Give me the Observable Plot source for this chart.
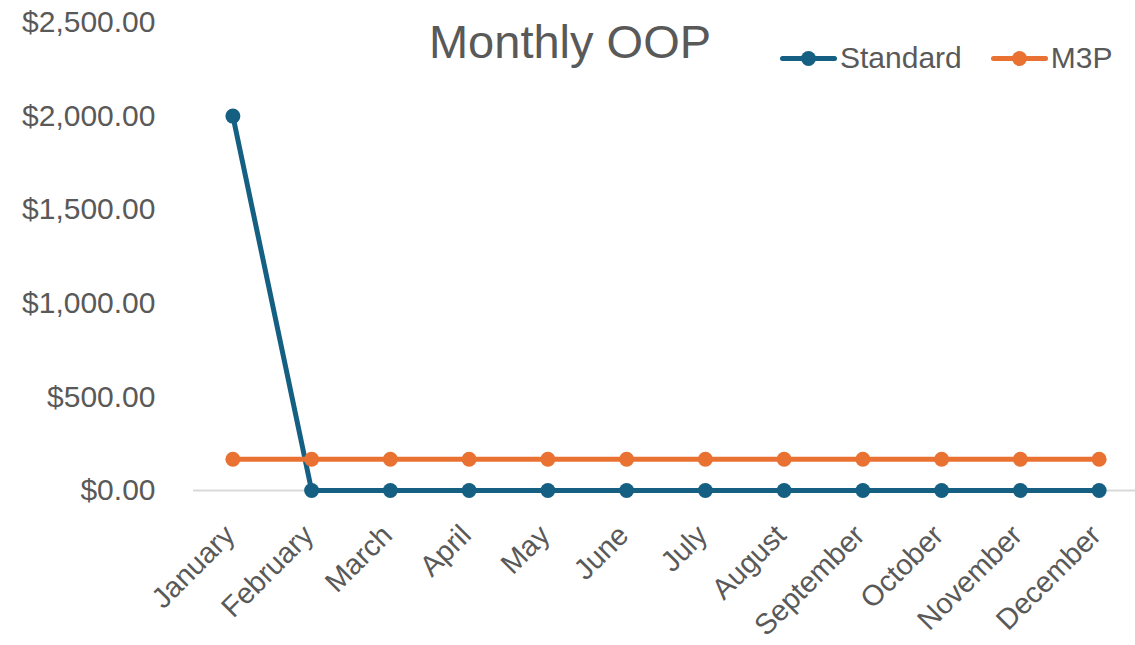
<!DOCTYPE html>
<html>
<head>
<meta charset="utf-8">
<script src="https://cdn.jsdelivr.net/npm/d3@7"></script>
<script src="https://cdn.jsdelivr.net/npm/@observablehq/plot@0.6"></script>
<style>
  html, body { margin: 0; padding: 0; background: #fff; }
  #wrap { position: relative; width: 1135px; height: 645px; font-family: "Liberation Sans", Arial, sans-serif; color: #595959; }
  #title { position: absolute; left: 0; width: 1140px; top: 15px; text-align: center; font-size: 47px; line-height: 54px; }
  #legend { position: absolute; top: 40px; left: 780px; display: flex; align-items: center; font-size: 30px; line-height: 36px; }
  .item { display: flex; align-items: center; margin-right: 29px; }
  .sw { width: 57px; height: 15px; position: relative; margin-right: 3px; }
  .sw .ln { position: absolute; left: 0; right: 0; top: 5px; height: 5px; border-radius: 3px; }
  .sw .dt { position: absolute; left: 21px; top: 0; width: 15px; height: 15px; border-radius: 50%; }
</style>
</head>
<body>
<div id="wrap">
  <div id="chart"></div>
  <div id="title">Monthly OOP</div>
  <div id="legend"></div>
</div>
<script>
const months = ["January","February","March","April","May","June","July","August","September","October","November","December"];
const standard = [2000, 0, 0, 0, 0, 0, 0, 0, 0, 0, 0, 0];
const m3p = [166.67, 166.67, 166.67, 166.67, 166.67, 166.67, 166.67, 166.67, 166.67, 166.67, 166.67, 166.67];
const seriesNames = ["Standard", "M3P"];
const seriesColors = ["#156082", "#E97132"];
const yTicks = [0, 500, 1000, 1500, 2000, 2500];

const data = [];
months.forEach((m, i) => {
  data.push({month: m, value: standard[i], series: "Standard"});
  data.push({month: m, value: m3p[i], series: "M3P"});
});

const fmt = d3.format("$,.2f");

const chart = Plot.plot({
  width: 1135,
  height: 645,
  marginTop: 22,
  marginBottom: 155,
  marginLeft: 193,
  marginRight: 0,
  style: {fontFamily: "'Liberation Sans', Arial, sans-serif", color: "#595959", background: "transparent"},
  x: {type: "point", domain: months, range: [193, 1138], padding: 0.5, round: false, label: null},
  y: {domain: [0, 2500], label: null},
  color: {domain: seriesNames, range: seriesColors},
  marks: [
    Plot.axisY({ticks: yTicks, tickFormat: fmt, tickSize: 0, tickPadding: 38, fontSize: 30, label: null}),
    Plot.axisX({tickSize: 0, tickRotate: -45, tickPadding: 40, dx: -3, fontSize: 29, label: null}),
    Plot.ruleY([0], {stroke: "#d9d9d9", strokeWidth: 2}),
    Plot.line(data, {x: "month", y: "value", z: "series", stroke: "series", strokeWidth: 5, strokeLinejoin: "round", strokeLinecap: "round"}),
    Plot.dot(data, {x: "month", y: "value", fill: "series", r: 7.5, stroke: null})
  ]
});
document.getElementById("chart").appendChild(chart);

const legend = document.getElementById("legend");
seriesNames.forEach((s, i) => {
  const item = document.createElement("div");
  item.className = "item";
  item.innerHTML = `<div class="sw"><div class="ln" style="background:${seriesColors[i]}"></div><div class="dt" style="background:${seriesColors[i]}"></div></div><span>${s}</span>`;
  legend.appendChild(item);
});
</script>
</body>
</html>
